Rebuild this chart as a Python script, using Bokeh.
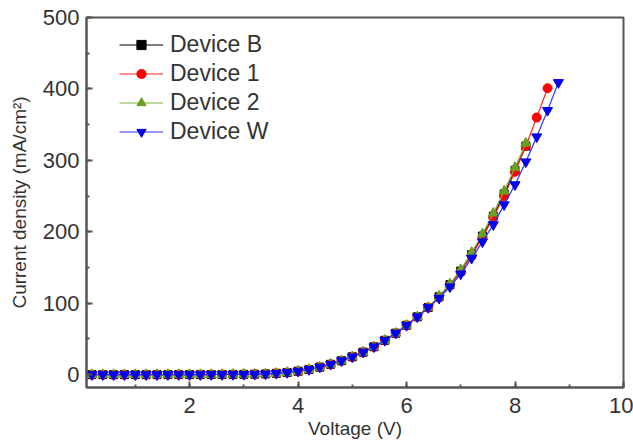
from bokeh.plotting import figure
from bokeh.embed import file_html
from bokeh.resources import INLINE
from bokeh.models import Range1d, SingleIntervalTicker, Legend, LegendItem

# ---- data ----
v_low = [0.2, 0.4, 0.6, 0.8, 1.0, 1.2, 1.4, 1.6, 1.8, 2.0, 2.2, 2.4, 2.6, 2.8, 3.0,
         3.2, 3.4, 3.6, 3.8, 4.0, 4.2, 4.4, 4.6, 4.8, 5.0, 5.2, 5.4, 5.6, 5.8, 6.0,
         6.2, 6.4]
j_low_common = [0.0, 0.0, 0.0, 0.0, 0.0, 0.0, 0.0, 0.1, 0.1, 0.1, 0.1, 0.2, 0.2, 0.3, 0.4,
                0.6, 1.0, 1.8, 3.0, 4.8, 7.2, 10.5, 14.5, 19.5, 25.0, 31.5, 39.0, 48.0, 58.0, 69.0,
                81.0, 94.0]

v_B = v_low + [6.6, 6.8, 7.0, 7.2, 7.4, 7.6, 7.8, 8.0, 8.2]
j_B = j_low_common + [109, 126, 145, 168, 194, 222, 253, 286, 320]

v_1 = v_low + [6.6, 6.8, 7.0, 7.2, 7.4, 7.6, 7.8, 8.0, 8.2, 8.4, 8.6]
j_1 = j_low_common + [108, 125, 144, 167, 192, 220, 250, 284, 320, 360, 401]

v_2 = v_low + [6.6, 6.8, 7.0, 7.2, 7.4, 7.6, 7.8, 8.0, 8.2]
j_2 = j_low_common + [110, 127, 147, 171, 197, 226, 257, 290, 324]

v_W = v_low + [6.6, 6.8, 7.0, 7.2, 7.4, 7.6, 7.8, 8.0, 8.2, 8.4, 8.6, 8.8]
j_W = j_low_common + [107, 123, 141, 163, 186, 210, 238, 266, 298, 333, 370, 409]

series_names = ["Device B", "Device 1", "Device 2", "Device W"]

FONT = "Liberation Sans"
AX = "#555555"
TXT = "#333333"

p = figure(width=633, height=441, output_backend="svg", toolbar_location=None,
           x_range=Range1d(0.1, 10), y_range=Range1d(-18, 500),
           min_border_left=86, min_border_right=10, min_border_top=17, min_border_bottom=53)
p.background_fill_color = "white"
p.border_fill_color = "white"
p.outline_line_color = AX
p.outline_line_width = 2
p.grid.visible = False

p.xaxis.ticker = SingleIntervalTicker(interval=2, num_minor_ticks=2)
p.yaxis.ticker = SingleIntervalTicker(interval=100, num_minor_ticks=2)
for ax in (p.xaxis[0], p.yaxis[0]):
    ax.axis_line_color = AX
    ax.axis_line_width = 2
    ax.major_tick_line_color = AX
    ax.minor_tick_line_color = AX
    ax.major_tick_line_width = 2
    ax.minor_tick_line_width = 2
    ax.major_tick_in = 6
    ax.major_tick_out = 0
    ax.minor_tick_in = 3
    ax.minor_tick_out = 0
    ax.major_label_text_font = FONT
    ax.major_label_text_font_size = "22px"
    ax.major_label_text_color = TXT
    ax.axis_label_text_font = FONT
    ax.axis_label_text_font_style = "normal"
    ax.axis_label_text_color = TXT

p.xaxis.axis_label = "Voltage (V)"
p.xaxis.axis_label_text_font_size = "19px"
p.xaxis.major_label_standoff = 10
p.xaxis.axis_label_standoff = 2
p.yaxis.axis_label = "Current density (mA/cm\u00b2)"
p.yaxis.axis_label_text_font_size = "19px"
p.yaxis.major_label_standoff = 7
p.yaxis.axis_label_standoff = 10

items = []
specs = [
    (v_B, j_B, "#000000", "#000000", "square", 8),
    (v_1, j_1, "#ff2020", "#ff0000", "circle", 9),
    (v_2, j_2, "#7fb33a", "#6a9f22", "triangle", 10),
    (v_W, j_W, "#3030ff", "#0000ee", "inverted_triangle", 10),
]
for (xs, ys, lc, mc, mk, sz), name in zip(specs, series_names):
    r1 = p.line(xs, ys, line_color=lc, line_width=1.2)
    r2 = p.scatter(xs, ys, marker=mk, size=sz, fill_color=mc, line_color=mc)
    items.append(LegendItem(label=name, renderers=[r1, r2]))

leg = Legend(items=items, location=(33, 242), border_line_color=None,
             background_fill_alpha=0, padding=0, margin=0, spacing=2,
             glyph_width=44, glyph_height=23, label_height=23, label_standoff=7,
             label_text_font=FONT, label_text_font_size="23px", label_text_color=TXT)
p.add_layout(leg)

open("out.html", "w").write(file_html(p, INLINE))
